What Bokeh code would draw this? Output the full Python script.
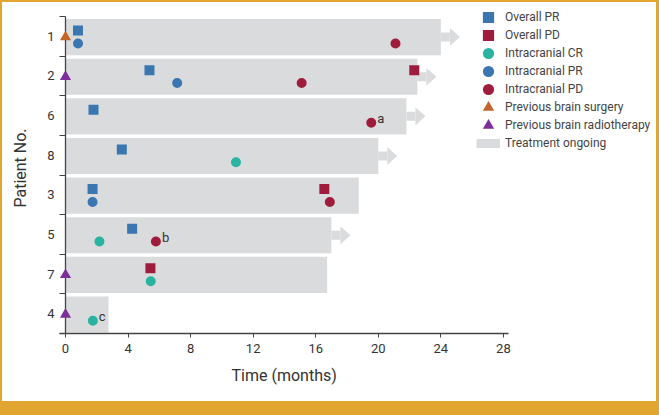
from bokeh.plotting import figure
from bokeh.layouts import column, row
from bokeh.models import Range1d, FixedTicker, Legend, LegendItem, Spacer, Title
from bokeh.core.properties import value
from bokeh.embed import file_html
from bokeh.resources import INLINE

# ---------------- data ----------------
patients = ["1", "2", "6", "8", "3", "5", "7", "4"]
treatment_months = [24.0, 22.5, 21.8, 20.0, 18.75, 17.0, 16.73, 2.75]
ongoing = [True, True, True, True, False, True, False, False]

overall_pr_patient = ["1", "2", "6", "8", "3", "5"]
overall_pr_month = [0.8, 5.37, 1.79, 3.6, 1.73, 4.26]
overall_pd_patient = ["2", "3", "7"]
overall_pd_month = [22.3, 16.55, 5.43]
ic_cr_patient = ["8", "5", "7", "4"]
ic_cr_month = [10.9, 2.17, 5.45, 1.75]
ic_pr_patient = ["1", "2", "3"]
ic_pr_month = [0.8, 7.14, 1.73]
ic_pd_patient = ["1", "2", "6", "3", "5"]
ic_pd_month = [21.1, 15.1, 19.55, 16.9, 5.78]
surgery_patient = ["1"]
surgery_month = [0.0]
radiotherapy_patient = ["2", "7", "4"]
radiotherapy_month = [0.0, 0.0, 0.0]
note_patient = ["6", "5", "4"]
note_month = [19.55, 5.78, 1.75]
note_text = ["a", "b", "c"]
x_ticks = [0, 4, 8, 12, 16, 20, 24, 28]

# ---------------- style / layout ----------------
FONT = "Roboto"
C_BAR = "#dadbdc"
C_BLUE = "#3a76b0"
C_RED = "#a01c3c"
C_TEAL = "#2bb3a1"
C_SURG = "#c4642a"
C_RADIO = "#7d2e99"
C_AXIS = "#444444"
C_TEXT = "#333333"
C_GOLD = "#e0a630"

W, H = 654, 399
PX_PER_MONTH = 15.64
LEFT_BORDER = 57
BOTTOM_BORDER = 68
n = len(patients)
x_start = -6 / PX_PER_MONTH
x_end = x_start + (W - LEFT_BORDER) / PX_PER_MONTH
x_axis_end = x_ticks[-1] + 0.3
px_per_row = 317 / n
y_end = n + 14 / px_per_row

BAR_SHIFT = -0.02     # bars sit slightly below the row centre
SQ_SHIFT = 0.145      # squares above centre
CI_SHIFT = -0.18      # circles below centre


def row_y(pid, shift=0.0):
    return n - patients.index(pid) - 0.5 + shift


p = figure(width=W, height=H, output_backend="svg", toolbar_location=None,
           x_range=Range1d(x_start, x_end), y_range=Range1d(0, y_end),
           min_border_left=LEFT_BORDER, min_border_right=0, min_border_top=0,
           min_border_bottom=BOTTOM_BORDER)
p.outline_line_color = None
p.grid.visible = False
p.background_fill_color = "white"
p.border_fill_color = "white"

# bars
bar_y = [row_y(pid, BAR_SHIFT) for pid in patients]
p.hbar(y=bar_y, left=0, right=treatment_months, height=0.91,
       fill_color=C_BAR, line_color=None)

# treatment ongoing arrows
SHAFT = 9 / PX_PER_MONTH
HEAD = 10 / PX_PER_MONTH
HEAD_H = 9 / px_per_row
ar_end = [e for e, o in zip(treatment_months, ongoing) if o]
ar_y = [row_y(pid, BAR_SHIFT) for pid, o in zip(patients, ongoing) if o]
r_shaft = p.segment(x0=ar_end, y0=ar_y, x1=[e + SHAFT for e in ar_end], y1=ar_y,
                    line_color=C_BAR, line_width=9, line_cap="butt")
p.patches(xs=[[e + SHAFT, e + SHAFT, e + SHAFT + HEAD] for e in ar_end],
          ys=[[y + HEAD_H, y - HEAD_H, y] for y in ar_y],
          fill_color=C_BAR, line_color=None)

# vertical axis line at time 0
p.segment(x0=[0], y0=[0], x1=[0], y1=[n], line_color=C_AXIS, line_width=1.3)

# markers (drawn with a thick outline of the same colour; the legend scales the
# marker core to the glyph box, the outline keeps the visual size)
MS = 6
OUT = 4
mk = dict(line_width=OUT, line_join="miter")
r_opr = p.scatter(x=overall_pr_month, y=[row_y(k, SQ_SHIFT) for k in overall_pr_patient],
                  marker="square", size=MS, fill_color=C_BLUE, line_color=C_BLUE, **mk)
r_opd = p.scatter(x=overall_pd_month, y=[row_y(k, SQ_SHIFT) for k in overall_pd_patient],
                  marker="square", size=MS, fill_color=C_RED, line_color=C_RED, **mk)
r_icr = p.scatter(x=ic_cr_month, y=[row_y(k, CI_SHIFT) for k in ic_cr_patient],
                  marker="circle", size=MS, fill_color=C_TEAL, line_color=C_TEAL, **mk)
r_ipr = p.scatter(x=ic_pr_month, y=[row_y(k, CI_SHIFT) for k in ic_pr_patient],
                  marker="circle", size=MS, fill_color=C_BLUE, line_color=C_BLUE, **mk)
r_ipd = p.scatter(x=ic_pd_month, y=[row_y(k, CI_SHIFT) for k in ic_pd_patient],
                  marker="circle", size=MS, fill_color=C_RED, line_color=C_RED, **mk)
tri = dict(line_width=2.4, line_join="miter")
r_surg = p.scatter(x=surgery_month, y=[row_y(k, BAR_SHIFT) for k in surgery_patient],
                   marker="triangle", size=7, fill_color=C_SURG, line_color=C_SURG, **tri)
r_rad = p.scatter(x=radiotherapy_month, y=[row_y(k, BAR_SHIFT) for k in radiotherapy_patient],
                  marker="triangle", size=7, fill_color=C_RADIO, line_color=C_RADIO, **tri)

# footnote letters
p.text(x=note_month, y=[row_y(k, CI_SHIFT) for k in note_patient], text=note_text,
       x_offset=6, y_offset=-4, text_align="left", text_baseline="middle",
       text_font=value(FONT), text_font_size="13px", text_color=C_TEXT)

# x axis
xa = p.xaxis[0]
xa.ticker = FixedTicker(ticks=x_ticks)
xa.bounds = (x_start, x_axis_end)
xa.axis_line_color = C_AXIS
xa.axis_line_width = 1.3
xa.major_tick_line_color = C_AXIS
xa.major_tick_out = 4
xa.major_tick_in = 0
xa.minor_tick_line_color = None
xa.major_label_standoff = 6
xa.major_label_text_font = FONT
xa.major_label_text_font_size = "13px"
xa.major_label_text_color = C_TEXT

# x axis title, centred under the drawn axis (not the whole frame)
p.add_layout(Title(text="Time (months)", align="left", offset=172, standoff=17,
                   text_font=FONT, text_font_size="16px", text_font_style="normal",
                   text_color=C_TEXT), "below")

# y axis
centers = [row_y(pid) for pid in patients]
ya = p.yaxis[0]
ya.ticker = FixedTicker(ticks=centers, minor_ticks=[float(i) for i in range(n + 1)])
ya.major_label_overrides = {c: pid for c, pid in zip(centers, patients)}
ya.bounds = (0, n)
ya.axis_line_color = None
ya.major_tick_line_color = None
ya.major_tick_out = 0
ya.major_tick_in = 0
ya.minor_tick_line_color = C_AXIS
ya.minor_tick_line_width = 1.2
ya.minor_tick_out = 0
ya.minor_tick_in = 6
ya.major_label_standoff = 5
ya.major_label_text_font = FONT
ya.major_label_text_font_size = "13px"
ya.major_label_text_color = C_TEXT
ya.axis_label = "Patient No."
ya.axis_label_text_font = FONT
ya.axis_label_text_font_size = "16px"
ya.axis_label_text_font_style = "normal"
ya.axis_label_text_color = C_TEXT
ya.axis_label_standoff = 14

# legend
legend = Legend(items=[
    LegendItem(label="Overall PR", renderers=[r_opr]),
    LegendItem(label="Overall PD", renderers=[r_opd]),
    LegendItem(label="Intracranial CR", renderers=[r_icr]),
    LegendItem(label="Intracranial PR", renderers=[r_ipr]),
    LegendItem(label="Intracranial PD", renderers=[r_ipd]),
    LegendItem(label="Previous brain surgery", renderers=[r_surg]),
    LegendItem(label="Previous brain radiotherapy", renderers=[r_rad]),
    LegendItem(label="Treatment ongoing", renderers=[r_shaft]),
], location=(417, 181.3), glyph_width=24, glyph_height=18, label_height=18,
    spacing=0, padding=0, margin=0, label_standoff=5,
    border_line_color=None, background_fill_alpha=0,
    label_text_font=FONT, label_text_font_size="12px", label_text_color="#444444")
p.add_layout(legend)

# gold frame around the figure
gold = {"background-color": C_GOLD}
page = column(
    Spacer(width=W + 5, height=2, styles=gold),
    row(Spacer(width=2, height=H, styles=gold), p, Spacer(width=3, height=H, styles=gold),
        spacing=0),
    Spacer(width=W + 5, height=14, styles=gold),
    spacing=0)

open("out.html", "w").write(file_html(page, INLINE))
